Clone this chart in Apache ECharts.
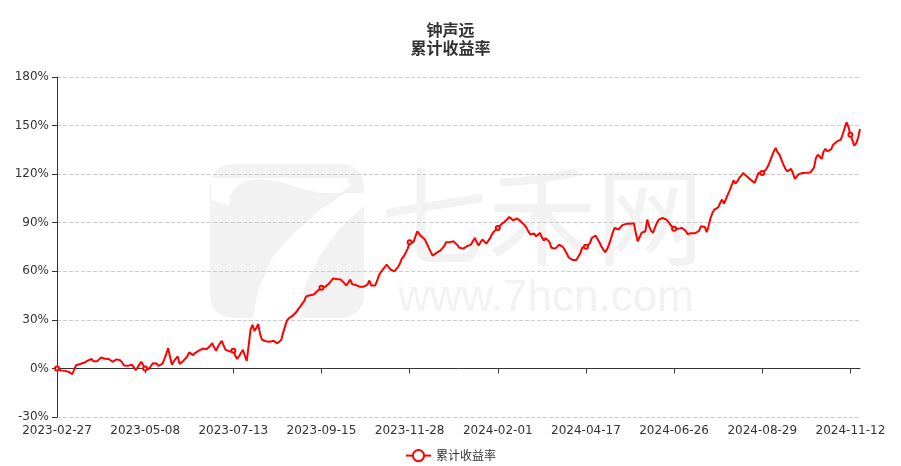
<!DOCTYPE html>
<html>
<head>
<meta charset="utf-8">
<script src="https://cdn.jsdelivr.net/npm/echarts@6/dist/echarts.min.js"></script>
<style>html,body{margin:0;padding:0;background:#fff;}#c{width:901px;height:466px;}</style>
</head>
<body>
<div id="c"></div>
<script>
const titleText = '钟声远\n累计收益率';
const seriesName = '累计收益率';
const startDate = '2023-02-27';
const holidays = ['2023-04-05','2023-05-01','2023-05-02','2023-05-03','2023-06-22','2023-06-23',
  '2023-09-29','2023-10-02','2023-10-03','2023-10-04','2023-10-05','2023-10-06',
  '2024-01-01','2024-02-09','2024-02-12','2024-02-13','2024-02-14','2024-02-15','2024-02-16',
  '2024-04-04','2024-04-05','2024-05-01','2024-05-02','2024-05-03','2024-06-10',
  '2024-09-16','2024-09-17','2024-10-01','2024-10-02','2024-10-03','2024-10-04','2024-10-07'];
const yTicks = {min: -30, max: 180, interval: 30};
const values = [
0,-0.8,-1.2,-1.0,-1.5,-1.3,-2.0,-2.8,-3.6,-0.5,
2.0,1.0,2.7,2.2,3.5,4.0,4.8,5.2,5.8,4.5,
3.3,4.5,5.6,6.8,6.4,6.0,6.5,5.8,4.9,4.1,
4.8,5.6,6.2,5.0,3.7,1.8,1.0,1.6,1.9,2.3,
0.8,-1.0,0.5,2.5,4.1,2.0,0.0,-0.8,-0.4,1.5,
3.2,4.1,3.0,1.5,0.6,3.0,5.8,9.0,12.5,7.0,
2.3,4.5,6.0,7.4,2.7,3.5,4.8,5.8,7.5,9.9,
9.0,8.2,9.5,10.5,11.0,12.0,12.3,11.5,11.9,12.5,
14.0,15.6,13.0,10.9,13.5,15.5,17.1,14.0,11.5,10.9,
10.5,11.2,10.9,8.0,5.8,7.5,9.5,11.5,8.0,4.7,
14.0,24.0,26.9,23.2,25.0,27.4,21.0,17.7,16.5,16.8,
16.0,16.5,16.8,17.1,16.0,15.5,15.0,17.5,22.2,26.0,
29.5,31.1,31.5,32.5,33.5,35.0,36.8,38.3,40.0,41.5,
44.5,45.0,45.2,45.0,45.7,46.5,48.0,48.5,49.8,50.2,
50.5,51.2,52.5,54.0,55.5,54.5,55.2,56.0,55.0,54.3,
52.5,51.2,53.0,54.9,52.0,50.8,51.5,51.2,50.5,49.8,
50.5,51.0,51.8,54.3,51.2,51.0,51.2,54.0,57.5,59.5,
61.0,62.5,64.2,63.5,61.1,60.5,60.0,61.0,62.7,65.0,
68.0,69.3,69.7,74.0,77.9,77.5,77.9,81.5,84.7,83.5,
81.6,80.5,79.6,77.0,74.5,72.0,69.7,70.0,71.4,72.0,
72.8,73.4,75.5,77.9,78.3,78.0,79.2,78.5,77.9,76.0,
74.5,73.4,74.0,75.0,75.5,76.0,76.5,77.1,80.6,78.0,
75.9,78.0,79.6,78.5,77.1,78.0,80.5,83.0,84.5,85.5,
86.8,88.0,89.2,90.3,91.0,92.3,93.6,92.5,91.5,92.0,
92.6,91.5,90.8,90.3,88.5,86.8,84.5,82.7,83.0,83.3,
81.6,82.5,83.7,81.0,79.0,80.5,81.6,78.0,74.5,74.2,
74.0,73.9,76.5,75.8,75.0,74.5,71.0,68.5,67.7,67.0,
66.8,67.0,67.7,71.0,74.5,74.8,75.1,76.0,77.1,80.5,
81.6,82.1,81.0,77.9,75.5,73.5,71.8,73.5,76.5,80.0,
84.0,86.8,86.5,85.8,87.0,88.5,89.5,89.3,89.5,89.4,
89.5,89.6,84.0,78.5,81.0,83.7,84.0,84.7,91.9,87.8,
85.0,83.7,87.0,89.9,91.9,92.5,92.9,92.5,91.9,90.5,
88.8,87.5,86.2,86.0,86.2,86.2,86.8,87.4,85.0,83.0,
82.1,83.5,84.7,83.5,82.7,85.0,87.8,87.4,87.4,84.1,
88.0,92.9,96.0,98.1,98.5,99.5,102.0,104.3,101.8,104.5,
107.4,110.0,113.0,116.2,114.1,115.5,117.7,119.0,120.7,119.8,
118.6,117.5,116.5,115.5,114.6,117.5,120.7,121.0,120.7,121.8,
122.8,125.0,127.9,131.0,134.0,136.2,133.5,132.0,129.0,126.0,
123.5,121.7,122.5,123.2,120.7,117.0,118.5,120.0,120.7,120.7,
120.8,120.8,120.9,121.0,121.1,124.0,130.0,132.0,133.1,129.4,
134.0,135.6,134.0,133.1,135.5,138.2,139.0,140.2,140.8,141.3,
144.8,148.5,152.0,149.1,144.4,141.0,137.6,139.0,142.5,147.9
];

// trading-day categories (weekdays minus exchange holidays)
function buildDates(start, count, hol) {
  const out = [];
  const hs = new Set(hol);
  const d = new Date(start + 'T00:00:00Z');
  while (out.length < count) {
    const wd = d.getUTCDay();
    const s = d.toISOString().slice(0, 10);
    if (wd !== 0 && wd !== 6 && !hs.has(s)) out.push(s);
    d.setUTCDate(d.getUTCDate() + 1);
  }
  return out;
}
const dates = buildDates(startDate, values.length, holidays);

const chart = echarts.init(document.getElementById('c'), null, {renderer: 'canvas'});
const FONT = "'Noto Sans CJK SC', 'Noto Sans', sans-serif";
const AXFONT = "'DejaVu Sans', 'Noto Sans CJK SC', sans-serif";
const wm = '#f2f2f2';
chart.setOption({
  animation: false,
  backgroundColor: '#fff',
  textStyle: {fontFamily: FONT},
  title: {
    text: titleText,
    left: 'center',
    top: 16,
    textStyle: {fontSize: 16, fontWeight: 'bold', color: '#333', lineHeight: 18, fontFamily: FONT}
  },
  graphic: [
    {type: 'rect', z: -10, silent: true, shape: {x: 210, y: 164, width: 154, height: 154, r: 22}, style: {fill: wm}},
    {type: 'polygon', z: -9, silent: true, shape: {points: [[211,178],[346,178],[350,186],[340,193],[320,193],[300,188],[280,182],[260,179],[245,181],[235,188],[230,196],[229,205],[211,200]]}, style: {fill: '#fff'}},
    {type: 'polygon', z: -9, silent: true, shape: {points: [[345,193],[364,193],[364,206],[340,228],[320,255],[305,285],[300,318],[253,318],[258,290],[272,258],[295,232],[320,210]]}, style: {fill: '#fff'}},
    {type: 'text', z: -10, silent: true, left: 380, top: 162, style: {text: '七禾网', fill: wm, font: "normal 108px 'Noto Sans CJK SC'"}},
    {type: 'text', z: -10, silent: true, left: 398, top: 277, style: {text: 'www.7hcn.com', fill: wm, font: "44px 'Liberation Sans'"}}
  ],
  legend: {
    data: [seriesName],
    top: 444,
    left: 'center',
    itemWidth: 25,
    itemHeight: 14,
    textStyle: {fontSize: 12, color: '#333'}
  },
  grid: {left: 57, right: 41, top: 77, bottom: 49, containLabel: false},
  xAxis: {
    type: 'category',
    data: dates,
    boundaryGap: false,
    axisLine: {onZero: true, lineStyle: {color: '#333'}},
    axisTick: {show: true, interval: 45, lineStyle: {color: '#333'}},
    axisLabel: {interval: 45, color: '#333', fontSize: 12, margin: 8, fontFamily: AXFONT}
  },
  yAxis: {
    type: 'value',
    min: yTicks.min,
    max: yTicks.max,
    interval: yTicks.interval,
    axisLine: {show: true, lineStyle: {color: '#333'}},
    axisTick: {show: true, lineStyle: {color: '#333'}},
    axisLabel: {formatter: '{value}%', color: '#333', fontSize: 12, fontFamily: AXFONT},
    splitLine: {show: true, lineStyle: {type: 'dashed', color: '#ccc'}}
  },
  series: [{
    name: seriesName,
    type: 'line',
    data: values,
    symbol: 'emptyCircle',
    symbolSize: 4,
    showSymbol: true,
    lineStyle: {color: '#ff0000', width: 2},
    itemStyle: {color: '#ff0000'}
  }]
});
</script>
</body>
</html>
